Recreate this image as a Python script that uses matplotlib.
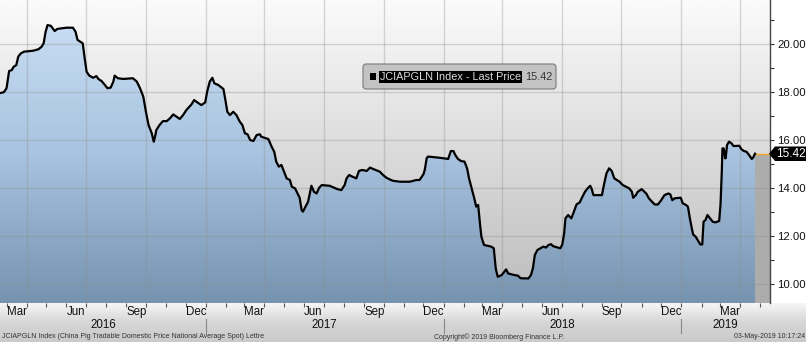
import numpy as np
import pandas as pd
import matplotlib
matplotlib.use('Agg')
import matplotlib.pyplot as plt
import matplotlib.dates as mdates
from matplotlib.path import Path
from matplotlib.patches import PathPatch, FancyBboxPatch, Polygon, Rectangle
from matplotlib.colors import LinearSegmentedColormap
from matplotlib.transforms import Affine2D, blended_transform_factory

plt.rcParams['font.family'] = ['Liberation Sans', 'DejaVu Sans']

# JCIAPGLN Index - last price
dates_2016 = ['2016-02-19', '2016-02-26', '2016-03-01', '2016-03-05', '2016-03-09', '2016-03-12',
              '2016-03-16', '2016-03-19', '2016-03-23', '2016-03-28', '2016-04-11', '2016-04-19',
              '2016-04-24', '2016-04-27', '2016-04-30', '2016-05-03', '2016-05-08', '2016-05-11',
              '2016-05-14', '2016-05-18', '2016-06-01', '2016-06-11', '2016-06-15', '2016-06-18',
              '2016-06-26', '2016-06-29', '2016-07-02', '2016-07-06', '2016-07-12', '2016-07-17',
              '2016-07-20', '2016-07-25', '2016-07-30', '2016-08-03', '2016-08-08', '2016-08-12',
              '2016-08-14', '2016-08-19', '2016-08-27', '2016-09-11', '2016-09-17', '2016-09-22',
              '2016-09-27', '2016-10-01', '2016-10-05', '2016-10-10', '2016-10-13', '2016-10-15',
              '2016-10-17', '2016-10-22', '2016-10-27', '2016-11-02', '2016-11-07', '2016-11-12',
              '2016-11-22', '2016-11-27', '2016-12-02', '2016-12-10', '2016-12-14', '2016-12-19',
              '2016-12-25', '2016-12-31']
prices_2016 = [17.94, 17.99, 18.15, 18.87, 18.91, 19.05,
               19.12, 19.47, 19.61, 19.68, 19.72, 19.78,
               19.89, 20.03, 20.51, 20.79, 20.76, 20.65,
               20.54, 20.63, 20.68, 20.68, 20.51, 20.17,
               20.03, 19.40, 18.84, 18.68, 18.59, 18.66,
               18.54, 18.45, 18.29, 18.15, 18.18, 18.43,
               18.68, 18.57, 18.54, 18.57, 18.43, 18.15,
               17.80, 17.17, 16.62, 16.27, 15.92, 16.13,
               16.41, 16.62, 16.78, 16.78, 16.90, 17.06,
               16.87, 17.03, 17.24, 17.48, 17.66, 17.56,
               17.45, 17.56]

dates_2017 = ['2017-01-03', '2017-01-07', '2017-01-11', '2017-01-14', '2017-01-20', '2017-01-28',
              '2017-01-31', '2017-02-03', '2017-02-07', '2017-02-12', '2017-02-17', '2017-02-22',
              '2017-02-26', '2017-03-02', '2017-03-06', '2017-03-10', '2017-03-15', '2017-03-20',
              '2017-03-25', '2017-03-27', '2017-04-07', '2017-04-12', '2017-04-16', '2017-04-19',
              '2017-04-23', '2017-04-27', '2017-05-01', '2017-05-05', '2017-05-10', '2017-05-13',
              '2017-05-18', '2017-05-23', '2017-05-25', '2017-05-28', '2017-05-30', '2017-06-03',
              '2017-06-07', '2017-06-10', '2017-06-12', '2017-06-16', '2017-06-20', '2017-06-24',
              '2017-06-28', '2017-07-10', '2017-07-17', '2017-07-22', '2017-07-28', '2017-08-02',
              '2017-08-05', '2017-08-09', '2017-08-14', '2017-08-20', '2017-08-24', '2017-08-29',
              '2017-09-05', '2017-09-10', '2017-09-15', '2017-09-25', '2017-09-30', '2017-10-05',
              '2017-10-10', '2017-10-15', '2017-10-26', '2017-11-10', '2017-11-20', '2017-11-25',
              '2017-12-01', '2017-12-03', '2017-12-06', '2017-12-08', '2017-12-26']
prices_2017 = [18.01, 18.43, 18.59, 18.36, 18.29, 18.12,
               17.66, 17.17, 17.03, 17.17, 17.03, 16.76,
               16.62, 16.27, 16.23, 15.99, 15.95, 16.20,
               16.23, 16.13, 16.03, 15.71, 15.50, 15.09,
               14.88, 14.95, 14.67, 14.39, 14.32, 14.04,
               13.97, 13.69, 13.58, 13.07, 13.00, 13.21,
               13.42, 13.83, 14.08, 13.83, 13.76, 14.00,
               14.11, 14.08, 14.00, 13.94, 13.90, 14.11,
               14.39, 14.53, 14.46, 14.39, 14.70, 14.74,
               14.70, 14.84, 14.78, 14.67, 14.53, 14.42,
               14.35, 14.29, 14.25, 14.25, 14.32, 14.32,
               14.56, 14.74, 15.23, 15.30, 15.25]

dates_2018 = ['2018-01-08', '2018-01-10', '2018-01-12', '2018-01-16', '2018-01-19', '2018-01-23',
              '2018-01-28', '2018-02-02', '2018-02-06', '2018-02-09', '2018-02-13', '2018-02-17',
              '2018-02-20', '2018-02-23', '2018-02-26', '2018-02-28', '2018-03-04', '2018-03-15',
              '2018-03-19', '2018-03-22', '2018-03-25', '2018-03-31', '2018-04-04', '2018-04-07',
              '2018-04-10', '2018-04-20', '2018-04-25', '2018-04-29', '2018-05-11', '2018-05-15',
              '2018-05-18', '2018-05-21', '2018-05-25', '2018-06-03', '2018-06-07', '2018-06-11',
              '2018-06-15', '2018-06-18', '2018-06-29', '2018-07-02', '2018-07-05', '2018-07-07',
              '2018-07-11', '2018-07-16', '2018-07-20', '2018-07-24', '2018-07-29', '2018-08-02',
              '2018-08-06', '2018-08-10', '2018-08-14', '2018-08-16', '2018-08-19', '2018-09-01',
              '2018-09-04', '2018-09-08', '2018-09-12', '2018-09-16', '2018-09-20', '2018-09-28',
              '2018-10-03', '2018-10-08', '2018-10-13', '2018-10-17', '2018-10-19', '2018-10-23',
              '2018-10-26', '2018-11-01', '2018-11-04', '2018-11-08', '2018-11-12', '2018-11-16',
              '2018-11-21', '2018-11-26', '2018-12-01', '2018-12-06', '2018-12-12', '2018-12-15',
              '2018-12-18', '2018-12-22', '2018-12-31']
prices_2018 = [15.20, 15.36, 15.53, 15.53, 15.36, 15.20,
               15.11, 15.09, 14.81, 14.39, 13.97, 13.56,
               13.21, 13.28, 12.44, 11.95, 11.61, 11.54,
               11.47, 10.63, 10.28, 10.35, 10.49, 10.59,
               10.42, 10.35, 10.33, 10.22, 10.21, 10.35,
               10.63, 11.19, 11.40, 11.54, 11.50, 11.61,
               11.64, 11.56, 11.47, 11.61, 12.09, 12.72,
               12.86, 12.72, 13.00, 13.30, 13.39, 13.62,
               13.83, 13.97, 14.08, 13.97, 13.69, 13.69,
               14.11, 14.60, 14.81, 14.70, 14.39, 14.25,
               14.11, 14.04, 13.97, 13.83, 13.58, 13.69,
               13.83, 13.94, 13.86, 13.76, 13.56, 13.44,
               13.30, 13.30, 13.48, 13.69, 13.76, 13.72,
               13.48, 13.56, 13.58]

dates_2019 = ['2019-01-03', '2019-01-08', '2019-01-11', '2019-01-14', '2019-01-17', '2019-01-19',
              '2019-01-23', '2019-01-27', '2019-01-30', '2019-02-02', '2019-02-04', '2019-02-07',
              '2019-02-10', '2019-02-14', '2019-02-18', '2019-02-22', '2019-02-28', '2019-03-02',
              '2019-03-04', '2019-03-05', '2019-03-07', '2019-03-09', '2019-03-10', '2019-03-12',
              '2019-03-15', '2019-03-19', '2019-03-22', '2019-03-31', '2019-04-03', '2019-04-07',
              '2019-04-11', '2019-04-15', '2019-04-19', '2019-04-21', '2019-04-24']
prices_2019 = [13.35, 13.28, 13.21, 12.72, 12.30, 12.05,
               11.95, 11.77, 11.63, 11.63, 12.58, 12.65,
               12.86, 12.72, 12.58, 12.55, 12.61, 13.28,
               14.67, 15.64, 15.64, 15.23, 15.23, 15.78,
               15.92, 15.85, 15.74, 15.75, 15.61, 15.53,
               15.50, 15.36, 15.20, 15.25, 15.42]

last_price = 15.42
y_ticks = [10, 12, 14, 16, 18, 20]
y_minor = [11, 13, 15, 17, 19, 21]
month_names = {3: 'Mar', 6: 'Jun', 9: 'Sep', 12: 'Dec'}
years = [2016, 2017, 2018, 2019]
legend_text = 'JCIAPGLN Index - Last Price'
footer_left = 'JCIAPGLN Index (China Pig Tradable Domestic Price National Average Spot) Lettre'
footer_mid = 'Copyright\u00a9 2019 Bloomberg Finance L.P.'
footer_right = '03-May-2019 10:17:24'

dates = pd.to_datetime(dates_2016 + dates_2017 + dates_2018 + dates_2019)
prices = np.array(prices_2016 + prices_2017 + prices_2018 + prices_2019)

xmin, xmax = pd.Timestamp('2016-02-20'), pd.Timestamp('2019-05-17')
ymin, ymax = 9.186, 21.837

fig = plt.figure(figsize=(8.06, 3.42), dpi=100, facecolor='white')
# pixel coordinates measured from the top-left corner
px = Affine2D().scale(0.01, -0.01).translate(0, 3.42) + fig.dpi_scale_trans

# bottom band with the date labels
band = fig.add_axes([0, 0, 1, 39 / 342], zorder=0)
band.axis('off')
band_cmap = LinearSegmentedColormap.from_list('band', ['#cacaca', '#d6d6d6', '#f6f6f6'])
band.imshow(np.linspace(0, 1, 64).reshape(-1, 1), aspect='auto', cmap=band_cmap,
            origin='lower', extent=[0, 1, 0, 1])

ax = fig.add_axes([0, 39 / 342, 770 / 806, 303 / 342], zorder=1)
x0, x1 = mdates.date2num(xmin), mdates.date2num(xmax)
grad = np.linspace(0, 1, 256).reshape(-1, 1)

bg_cmap = LinearSegmentedColormap.from_list('bg', ['#bcbcbc', '#fbfbfb'])
ax.imshow(grad, aspect='auto', cmap=bg_cmap, origin='lower',
          extent=[x0, x1, ymin, ymax], zorder=0)

# blue gradient under the price line
xs = mdates.date2num(dates)
verts = [(xs[0], ymin)] + list(zip(xs, prices)) + [(xs[-1], ymin)]
area = PathPatch(Path(verts), facecolor='none', edgecolor='none')
ax.add_patch(area)
blue_cmap = LinearSegmentedColormap.from_list('blue', ['#7693b0', '#a9c4e0', '#cde1f6'])
fill_img = ax.imshow(grad, aspect='auto', cmap=blue_cmap, origin='lower',
                     extent=[x0, x1, ymin, ymax], zorder=1)
fill_img.set_clip_path(area)

# grey strip after the last observation
ax.fill_between([dates[-1], xmax], ymin, last_price, color='#acacac', lw=0, zorder=1)
ax.plot([dates[-1], xmax], [last_price, last_price], color='#f5a623', lw=1, zorder=3)

ax.plot(dates, prices, color='black', lw=1.6, zorder=4, solid_joinstyle='round')

ax.set_xlim(xmin, xmax)
ax.set_ylim(ymin, ymax)
ax.set_axisbelow('line')
ax.xaxis.set_major_locator(mdates.MonthLocator(bymonth=[1, 4, 7, 10]))
ax.xaxis.set_minor_locator(mdates.MonthLocator())
ax.grid(which='major', color='#909090', alpha=0.35, lw=1)
ax.tick_params(axis='x', which='both', length=3, width=0.8, color='#555', labelbottom=False)

ax.yaxis.tick_right()
ax.set_yticks(y_ticks)
ax.set_yticklabels(['%.2f' % v for v in y_ticks])
ax.set_yticks(y_minor, minor=True)
ax.tick_params(axis='y', which='both', direction='out', length=3, width=0.8,
               color='#333', labelsize=8.2, pad=2, labelcolor='#111')
for side in ['top', 'left', 'bottom']:
    ax.spines[side].set_visible(False)
ax.spines['right'].set_color('#444')
ax.spines['right'].set_linewidth(1)

# month and year labels under the chart
tr = blended_transform_factory(ax.transData, fig.transFigure)
for d in pd.date_range(xmin, xmax, freq='MS'):
    if d.month in month_names:
        ax.text(d, 1 - 312 / 342, month_names[d.month], transform=tr, ha='left',
                va='center', fontsize=8.3, color='#111')
for yr in years:
    start = max(pd.Timestamp(yr, 1, 1), xmin)
    end = min(pd.Timestamp(yr + 1, 1, 1), xmax)
    ax.text(start + (end - start) / 2, 1 - 325 / 342, str(yr), transform=tr,
            ha='center', va='center', fontsize=8.3, color='#111')
    if yr > years[0]:
        ax.plot([start, start], [1 - 319 / 342, 1 - 333 / 342], transform=tr,
                color='#888', lw=0.8, clip_on=False)

fig.text(2, 337, footer_left, transform=px, fontsize=5, color='#333', va='center')
fig.text(434, 337, footer_mid, transform=px, fontsize=5, color='#333', va='center')
fig.text(805, 337, footer_right, transform=px, fontsize=5, color='#333', va='center', ha='right')

# legend box
fig.patches.append(FancyBboxPatch((363, 64), 193, 25, boxstyle='round,pad=0,rounding_size=3',
                                  transform=px, fc='#c3c3c3', ec='#7a7a7a', lw=0.8))
fig.patches.append(Rectangle((370, 73), 6, 7, transform=px, fc='black', ec='none'))
fig.text(380, 77, legend_text, transform=px, fontsize=7.8, color='#dcdcdc', va='center',
         bbox=dict(boxstyle='square,pad=0.12', fc='black', ec='none'))
fig.text(525, 77, '%.2f' % last_price, transform=px, fontsize=7.8, color='#333', va='center')

# last price tag on the axis
fig.patches.append(Polygon([(769, 153.7), (775, 146.5), (806, 146.5), (806, 161), (775, 161)],
                           closed=True, transform=px, fc='black', ec='none'))
fig.text(790.5, 154, '%.2f' % last_price, transform=px, fontsize=8.5, color='white',
         ha='center', va='center')

fig.savefig('out.png', dpi=100)
